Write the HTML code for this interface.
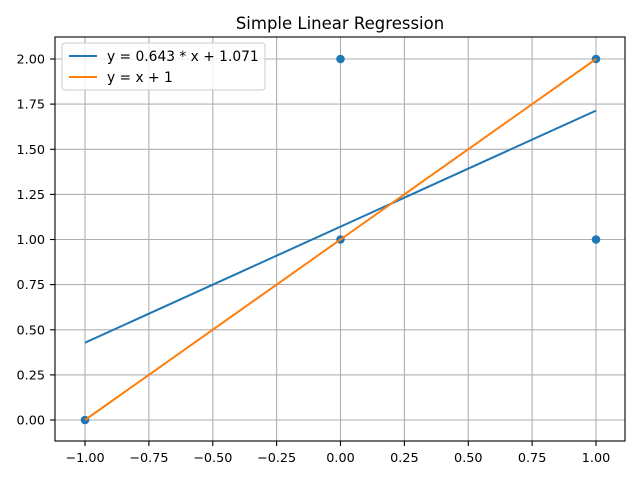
<!DOCTYPE html>
<html><head><meta charset="utf-8"><style>body{margin:0;background:#fff}svg{display:block}</style></head><body>
<svg width="640" height="480" xmlns="http://www.w3.org/2000/svg" font-family="DejaVu Sans, Liberation Sans, sans-serif">
<rect width="640" height="480" fill="#fff"/>
<g stroke="#b0b0b0" stroke-width="1.1">
<line x1="85" y1="37" x2="85" y2="441"/><line x1="148.9" y1="37" x2="148.9" y2="441"/><line x1="212.8" y1="37" x2="212.8" y2="441"/><line x1="276.6" y1="37" x2="276.6" y2="441"/><line x1="340.5" y1="37" x2="340.5" y2="441"/><line x1="404.4" y1="37" x2="404.4" y2="441"/><line x1="468.3" y1="37" x2="468.3" y2="441"/><line x1="532.1" y1="37" x2="532.1" y2="441"/><line x1="596" y1="37" x2="596" y2="441"/>
<line x1="55" y1="420" x2="625" y2="420"/><line x1="55" y1="374.9" x2="625" y2="374.9"/><line x1="55" y1="329.8" x2="625" y2="329.8"/><line x1="55" y1="284.6" x2="625" y2="284.6"/><line x1="55" y1="239.5" x2="625" y2="239.5"/><line x1="55" y1="194.4" x2="625" y2="194.4"/><line x1="55" y1="149.3" x2="625" y2="149.3"/><line x1="55" y1="104.1" x2="625" y2="104.1"/><line x1="55" y1="59" x2="625" y2="59"/>
</g>
<g fill="#1f77b4"><circle cx="85" cy="420" r="4.3"/><circle cx="340.5" cy="59" r="4.3"/><circle cx="340.5" cy="239.5" r="4.3"/><circle cx="596" cy="59" r="4.3"/><circle cx="596" cy="239.5" r="4.3"/></g>
<line x1="85" y1="342.7" x2="596" y2="110.6" stroke="#1f77b4" stroke-width="2"/>
<line x1="85" y1="420" x2="596" y2="59" stroke="#ff7f0e" stroke-width="2"/>
<rect x="55" y="37" width="570" height="404" fill="none" stroke="#000" stroke-width="1.1"/>
<g stroke="#000" stroke-width="1.1">
<line x1="85" y1="441" x2="85" y2="446"/><line x1="148.9" y1="441" x2="148.9" y2="446"/><line x1="212.8" y1="441" x2="212.8" y2="446"/><line x1="276.6" y1="441" x2="276.6" y2="446"/><line x1="340.5" y1="441" x2="340.5" y2="446"/><line x1="404.4" y1="441" x2="404.4" y2="446"/><line x1="468.3" y1="441" x2="468.3" y2="446"/><line x1="532.1" y1="441" x2="532.1" y2="446"/><line x1="596" y1="441" x2="596" y2="446"/>
<line x1="50" y1="420" x2="55" y2="420"/><line x1="50" y1="374.9" x2="55" y2="374.9"/><line x1="50" y1="329.8" x2="55" y2="329.8"/><line x1="50" y1="284.6" x2="55" y2="284.6"/><line x1="50" y1="239.5" x2="55" y2="239.5"/><line x1="50" y1="194.4" x2="55" y2="194.4"/><line x1="50" y1="149.3" x2="55" y2="149.3"/><line x1="50" y1="104.1" x2="55" y2="104.1"/><line x1="50" y1="59" x2="55" y2="59"/>
</g>
<g font-size="12.8" text-anchor="middle" fill="#000">
<text x="85" y="462">−1.00</text><text x="148.9" y="462">−0.75</text><text x="212.8" y="462">−0.50</text><text x="276.6" y="462">−0.25</text><text x="340.5" y="462">0.00</text><text x="404.4" y="462">0.25</text><text x="468.3" y="462">0.50</text><text x="532.1" y="462">0.75</text><text x="596" y="462">1.00</text>
</g>
<g font-size="12.8" text-anchor="end" fill="#000">
<text x="45" y="424.6">0.00</text><text x="45" y="379.5">0.25</text><text x="45" y="334.4">0.50</text><text x="45" y="289.2">0.75</text><text x="45" y="244.1">1.00</text><text x="45" y="199">1.25</text><text x="45" y="153.9">1.50</text><text x="45" y="108.7">1.75</text><text x="45" y="63.6">2.00</text>
</g>
<text x="340" y="29" font-size="16.5" text-anchor="middle">Simple Linear Regression</text>
<rect x="62" y="43" width="203" height="47" rx="3" fill="#fff" fill-opacity="0.8" stroke="#ccc"/>
<line x1="69" y1="56" x2="97" y2="56" stroke="#1f77b4" stroke-width="2"/>
<line x1="69" y1="77" x2="97" y2="77" stroke="#ff7f0e" stroke-width="2"/>
<text x="107" y="61" font-size="13.8">y = 0.643 * x + 1.071</text>
<text x="107" y="82" font-size="13.8">y = x + 1</text>
</svg>
</body></html>
